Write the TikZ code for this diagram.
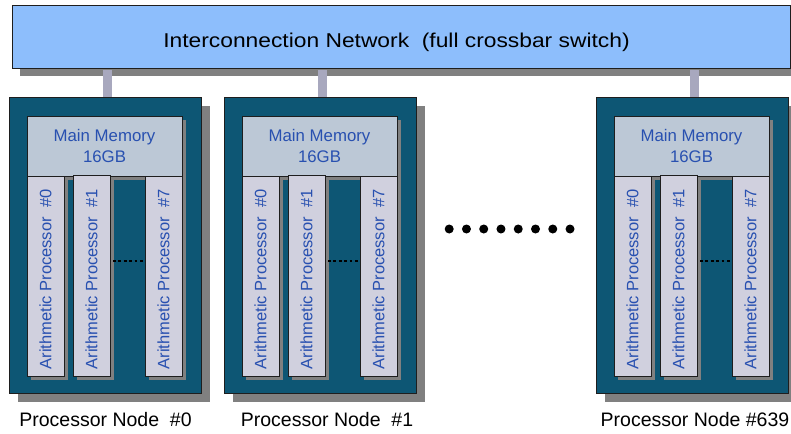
\documentclass[tikz,border=0pt]{standalone}
\usepackage{fontspec}
\setmainfont{Liberation Sans}
\newfontfamily\titlefont[FakeStretch=1.14]{Liberation Sans}
\usetikzlibrary{shadows}
\definecolor{netblue}{RGB}{141,190,252}
\definecolor{nodeteal}{RGB}{13,86,116}
\definecolor{memgray}{RGB}{188,200,214}
\definecolor{procgray}{RGB}{208,208,222}
\definecolor{shadowgray}{RGB}{128,128,128}
\definecolor{barcol}{RGB}{168,168,190}
\definecolor{txtblue}{RGB}{40,80,176}
\definecolor{edge}{RGB}{30,30,30}
\begin{document}
\begin{tikzpicture}[x=1pt,y=-1pt,
  base/.style={draw=edge, line width=0.9pt, inner sep=0pt, outer sep=0pt, anchor=north west},
  netbox/.style={base, fill=netblue, minimum width=778pt, minimum height=63pt,
    general shadow={fill=shadowgray, shadow xshift=8pt, shadow yshift=-8pt}},
  nodebox/.style={base, fill=nodeteal, minimum width=192pt, minimum height=296pt,
    general shadow={fill=shadowgray, shadow xshift=9pt, shadow yshift=-9pt}},
  membox/.style={base, fill=memgray, minimum width=155pt, minimum height=60pt,
    general shadow={fill=shadowgray, shadow xshift=3.5pt, shadow yshift=-3.5pt}},
  procbox/.style={base, fill=procgray, minimum width=37pt,
    general shadow={fill=shadowgray, shadow xshift=3.5pt, shadow yshift=-3.5pt}},
  memtext/.style={text=txtblue, font=\fontsize{16.8}{21}\selectfont, align=center, inner sep=0pt},
  proctext/.style={text=txtblue, font=\fontsize{16.5}{20}\selectfont, rotate=90, anchor=west, inner sep=0pt},
  nodelabel/.style={font=\fontsize{19.5}{23}\selectfont, anchor=base, inner sep=0pt},
  smalldots/.style={draw=black, line width=2.8pt, dash pattern=on 2.8pt off 2.6pt},
  bigdot/.style={circle, fill=black, minimum size=9pt, inner sep=0pt}
]
\useasboundingbox (0,0) rectangle (791,433);

% interconnection network
\node[netbox] (net) at (12,5) {};
\node[font=\titlefont\fontsize{20}{24}\selectfont, anchor=base, inner sep=0pt] (title) at (396.5,47.5)
  {Interconnection Network\ \ (full crossbar switch)};

\foreach \i/\x in {0/9, 1/224, 2/596} {
  % connector bar
  \fill[barcol] ({\x+93.5},70) rectangle ({\x+102.5},98);
  % node box
  \node[nodebox] (n\i) at (\x,97) {};
  % memory
  \node[membox] (m\i) at ({\x+18},116) {};
  \node[memtext] (mt\i) at (m\i.center) {Main Memory\\16GB};
  % processors
  \node[procbox, minimum height=200pt] (pa\i) at ({\x+18},176) {};
  \node[procbox, minimum height=200pt] (pc\i) at ({\x+136},176) {};
  \node[procbox, minimum height=201pt] (pb\i) at ({\x+64},175) {};
  \node[proctext] (ta\i) at ([yshift=6.5pt]pa\i.south) {Arithmetic Processor\ \ \#0};
  \node[proctext] (tb\i) at ([yshift=6.5pt]pb\i.south) {Arithmetic Processor\ \ \#1};
  \node[proctext] (tc\i) at ([yshift=6.5pt]pc\i.south) {Arithmetic Processor\ \ \#7};
  \coordinate (da\i) at ([xshift=3pt,yshift=14.5pt]pb\i.east);
  \draw[smalldots] (da\i) -- (da\i -| pc\i.west);
}

\node[nodelabel] (l0) at (105.5,426) {Processor Node\ \ \#0};
\node[nodelabel] (l1) at (327,426) {Processor Node\ \ \#1};
\node[nodelabel] (l2) at (695,426) {Processor Node \#639};

% ellipsis dots
\foreach \k in {0,...,7} {
  \node[bigdot] (d\k) at ({449.2+17.26*\k},229) {};
}
\end{tikzpicture}
\end{document}
